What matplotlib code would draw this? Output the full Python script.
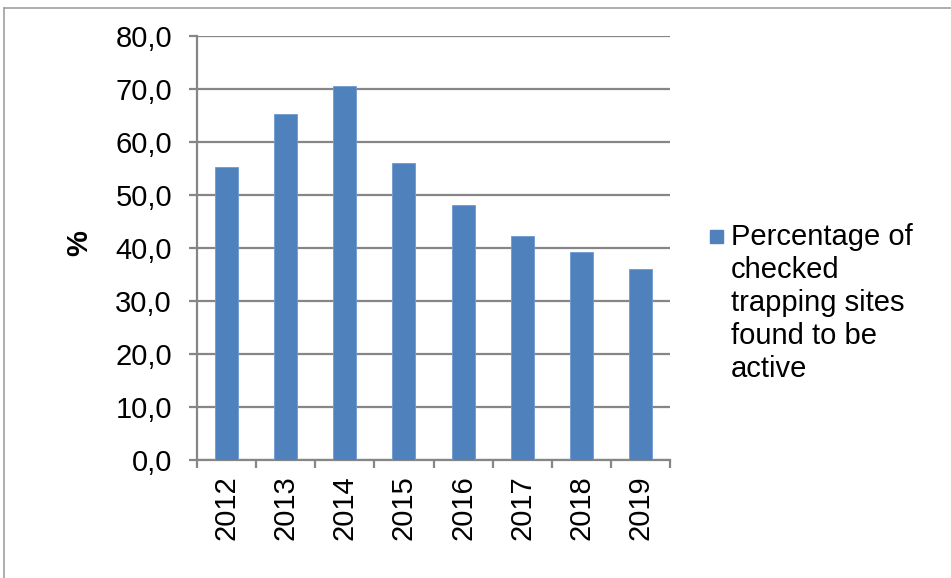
import matplotlib.pyplot as plt
from matplotlib.lines import Line2D
from matplotlib.patches import Rectangle

plt.rcParams['font.family'] = ['Liberation Sans', 'DejaVu Sans']

years = ['2012', '2013', '2014', '2015', '2016', '2017', '2018', '2019']
active_pct = [55.3, 65.3, 70.6, 56.0, 48.2, 42.3, 39.2, 36.0]
legend_label = 'Percentage of\nchecked\ntrapping sites\nfound to be\nactive'

W, H = 951, 578
bar_color = '#4F81BD'
grid_color = '#868686'

fig = plt.figure(figsize=(W / 100, H / 100), dpi=100)
ax = fig.add_axes([197 / W, (H - 460) / H, 473 / W, 424 / H])

x = list(range(len(years)))
ax.bar(x, active_pct, width=0.39, color=bar_color, edgecolor='#6E9BD0',
       linewidth=0.6, zorder=3)

ax.set_xlim(-0.5, len(years) - 0.5)
ax.set_ylim(0, 80)
ax.set_yticks(range(0, 81, 10))
ax.set_yticklabels([f'{v:.1f}'.replace('.', ',') for v in range(0, 81, 10)])
ax.set_xticks(x)
ax.set_xticklabels(years, rotation=90)
ax.set_xticks([i - 0.5 for i in range(len(years) + 1)], minor=True)

ax.grid(axis='y', color=grid_color, linewidth=1.6, zorder=0)
for side in ('top', 'right'):
    ax.spines[side].set_visible(False)
for side in ('left', 'bottom'):
    ax.spines[side].set_color(grid_color)
    ax.spines[side].set_linewidth(1.6)

ax.tick_params(axis='y', length=6, width=1.6, color=grid_color, pad=12,
               labelsize=21)
ax.tick_params(axis='x', which='major', length=0, pad=11, labelsize=21)
ax.tick_params(axis='x', which='minor', length=6, width=1.6, color=grid_color)

fig.text(79 / W, 1 - 243 / H, '%', rotation=90, ha='center', va='center',
         fontsize=21, fontweight='bold')

# legend: square swatch next to the first line of the wrapped label
fig.patches.append(Rectangle((710 / W, 1 - 243 / H), 13 / W, 13 / H,
                             transform=fig.transFigure, color=bar_color))
fig.text(731 / W, 1 - 223 / H, legend_label, ha='left', va='top',
         fontsize=21, linespacing=1.23)

# outer frame of the chart area
fig.add_artist(Line2D([3.5 / W, 1], [1 - 7.5 / H, 1 - 7.5 / H],
                      transform=fig.transFigure, color='#a0a0a0', linewidth=1.2))
fig.add_artist(Line2D([3.5 / W, 3.5 / W], [0, 1 - 7.5 / H],
                      transform=fig.transFigure, color='#a0a0a0', linewidth=1.2))

fig.savefig('out.png', dpi=100)
